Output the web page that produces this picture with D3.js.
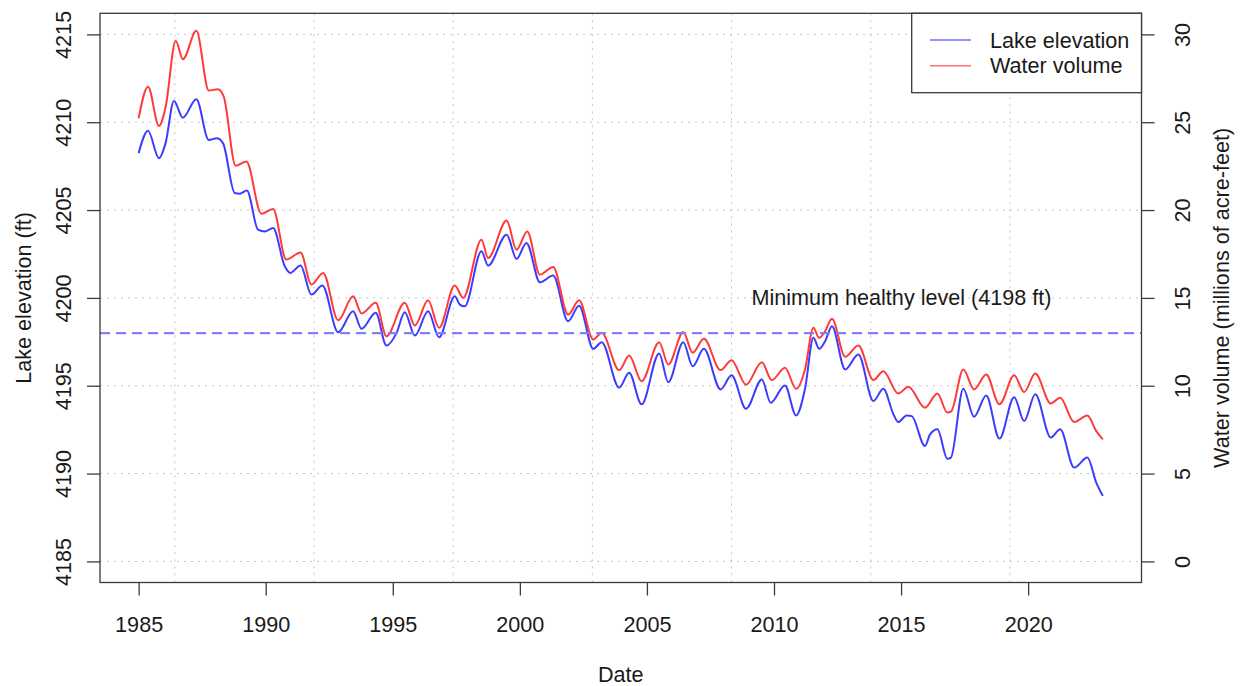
<!DOCTYPE html>
<html>
<head>
<meta charset="utf-8">
<script src="https://cdn.jsdelivr.net/npm/d3@7/dist/d3.min.js"></script>
<style>
  html, body { margin: 0; padding: 0; background: #ffffff; }
  svg { display: block; }
  text { font-family: "Liberation Sans", Arial, sans-serif; fill: #1a1a1a; }
</style>
</head>
<body>
<svg id="chart" width="1241" height="686"></svg>
<script>
// ---- Data ----
const elevDates = [1985.00,1985.37,1985.80,1986.06,1986.39,1986.74,1987.27,1987.76,1988.08,1988.32,
  1988.78,1988.98,1989.26,1989.70,1989.96,1990.29,1990.75,1990.97,1991.37,1991.80,
  1992.23,1992.85,1993.44,1993.77,1994.33,1994.75,1995.15,1995.47,1995.87,1996.39,
  1996.82,1997.44,1997.64,1997.83,1998.49,1998.75,1999.48,1999.87,2000.26,2000.79,
  2001.31,2001.90,2002.33,2002.89,2003.22,2003.91,2004.30,2004.79,2005.48,2005.84,
  2006.43,2006.80,2007.24,2007.90,2008.33,2008.90,2009.52,2009.87,2010.43,2010.87,
  2011.22,2011.55,2011.78,2012.01,2012.28,2012.80,2013.32,2013.91,2014.30,2014.70,
  2014.89,2015.22,2015.42,2015.94,2016.14,2016.43,2016.82,2016.96,2017.45,2017.87,
  2018.35,2018.87,2019.45,2019.84,2020.28,2020.89,2021.26,2021.81,2022.33,2022.68,2022.94];
const elevValues = [4208.24,4209.52,4207.95,4208.81,4211.21,4210.26,4211.31,4208.99,4209.09,4208.81,
  4205.97,4205.93,4206.11,4203.88,4203.78,4203.98,4201.80,4201.42,4201.85,4200.19,
  4200.70,4198.05,4199.24,4198.24,4199.15,4197.29,4198.01,4199.18,4197.86,4199.24,
  4197.76,4200.09,4199.62,4199.52,4202.65,4201.84,4203.60,4202.22,4203.13,4200.89,
  4201.27,4198.67,4199.56,4197.10,4197.48,4194.89,4195.74,4193.94,4196.84,4195.20,
  4197.48,4196.11,4197.10,4194.79,4195.59,4193.69,4195.36,4194.03,4195.02,4193.31,
  4194.83,4197.73,4197.10,4197.53,4198.39,4195.93,4196.78,4194.13,4194.83,4193.37,
  4192.93,4193.31,4193.27,4191.57,4192.23,4192.52,4190.85,4190.91,4194.83,4193.24,
  4194.45,4191.99,4194.35,4192.99,4194.51,4192.05,4192.52,4190.34,4190.91,4189.49,4188.73];

const volDates = [1985.00,1985.37,1985.80,1986.06,1986.46,1986.74,1987.27,1987.76,1988.12,1988.35,
  1988.82,1989.24,1989.83,1990.29,1990.81,1991.37,1991.80,1992.26,1992.85,1993.44,
  1993.77,1994.33,1994.75,1995.47,1995.87,1996.39,1996.82,1997.44,1997.77,1998.49,
  1998.75,1999.48,1999.87,2000.29,2000.79,2001.31,2001.90,2002.33,2002.89,2003.22,
  2003.91,2004.30,2004.79,2005.48,2005.84,2006.43,2006.80,2007.24,2007.90,2008.33,
  2008.90,2009.52,2009.91,2010.43,2010.87,2011.22,2011.55,2011.78,2012.01,2012.28,
  2012.80,2013.32,2013.91,2014.30,2014.89,2015.29,2015.94,2016.43,2016.82,2016.97,
  2017.45,2017.87,2018.35,2018.87,2019.45,2019.84,2020.28,2020.89,2021.26,2021.81,
  2022.33,2022.68,2022.94];
const volValues = [25.23,27.02,24.79,25.85,29.64,28.58,30.20,26.80,26.88,26.45,
  22.52,22.76,19.79,20.06,17.18,17.59,15.76,16.42,13.73,15.09,
  14.11,14.72,12.82,14.72,13.43,14.86,13.30,15.70,15.00,18.31,
  17.27,19.41,17.74,18.78,16.32,16.76,14.05,14.86,12.63,13.01,
  10.89,11.72,10.26,12.48,11.21,13.06,11.88,12.67,10.89,11.45,
  10.06,11.34,10.32,11.02,9.83,10.93,13.30,12.73,13.10,13.81,
  11.65,12.29,10.32,10.83,9.56,9.94,8.75,9.56,8.47,8.54,
  10.93,9.79,10.64,8.94,10.59,9.64,10.70,8.99,9.32,7.93,
  8.31,7.42,6.95];

const xTickYears = [1985,1990,1995,2000,2005,2010,2015,2020];
const elevTicks = [4185,4190,4195,4200,4205,4210,4215];
const volTicks = [0,5,10,15,20,25,30];
const gridDays = [6000,8000,10000,12000,14000,16000,18000]; // days since 1970-01-01
const minHealthy = 4198;
const annotationText = "Minimum healthy level (4198 ft)";
const legendLabels = ["Lake elevation", "Water volume"];

// ---- Layout ----
const W = 1241, H = 686;
const plot = { left: 100, right: 1141.5, top: 13.3, bottom: 582.5 };
const FS = 21.6;
const frameCol = "#3a3a3a";
const blue = "#3c3cff", red = "#ff3a3a";

const svg = d3.select("#chart");
svg.append("rect").attr("width", W).attr("height", H).attr("fill", "#fff");

const x = d3.scaleLinear().domain([1983.48, 2024.46]).range([plot.left, plot.right]);
const yE = d3.scaleLinear().domain([4185 - 1.2, 4215 + 1.2]).range([plot.bottom, plot.top]);
const yV = d3.scaleLinear().domain([0 - 1.2, 30 + 1.2]).range([plot.bottom, plot.top]);

// grid
const grid = svg.append("g").attr("stroke", "#c4c4c4").attr("stroke-width", 1)
  .attr("stroke-dasharray", "2,5").attr("fill", "none");
gridDays.forEach(d => {
  const gx = x(1970 + d / 365.25);
  grid.append("line").attr("x1", gx).attr("x2", gx).attr("y1", plot.top).attr("y2", plot.bottom);
});
elevTicks.forEach(v => {
  grid.append("line").attr("x1", plot.left).attr("x2", plot.right).attr("y1", yE(v)).attr("y2", yE(v));
});

// lines
const lineE = d3.line().x((d, i) => x(elevDates[i])).y(d => yE(d)).curve(d3.curveMonotoneX);
const lineV = d3.line().x((d, i) => x(volDates[i])).y(d => yV(d)).curve(d3.curveMonotoneX);
svg.append("path").datum(elevValues).attr("d", lineE).attr("fill", "none")
  .attr("stroke", blue).attr("stroke-width", 2).attr("stroke-linejoin", "round");
svg.append("path").datum(volValues).attr("d", lineV).attr("fill", "none")
  .attr("stroke", red).attr("stroke-width", 2).attr("stroke-linejoin", "round");

// min healthy dashed line
svg.append("line").attr("x1", plot.left).attr("x2", plot.right)
  .attr("y1", yE(minHealthy)).attr("y2", yE(minHealthy))
  .attr("stroke", "#7f7fff").attr("stroke-width", 2.2).attr("stroke-dasharray", "10,6");

svg.append("text").attr("x", 901.5).attr("y", 305).attr("text-anchor", "middle")
  .attr("font-size", FS).text(annotationText);

// axes
const bottomAxis = d3.axisBottom(x).tickValues(xTickYears).tickSize(13).tickPadding(0).tickFormat(d3.format("d"));
const gB = svg.append("g").attr("transform", `translate(0,${plot.bottom})`).call(bottomAxis);
gB.select(".domain").remove();
gB.selectAll(".tick line").attr("stroke", frameCol).attr("stroke-width", 1.3);
gB.selectAll(".tick text").attr("font-size", FS).attr("dy", null).attr("y", 49)
  .style("font-family", '"Liberation Sans", Arial, sans-serif').attr("fill", "#1a1a1a");

const leftAxis = d3.axisLeft(yE).tickValues(elevTicks).tickSize(13).tickFormat(d3.format("d"));
const gL = svg.append("g").attr("transform", `translate(${plot.left},0)`).call(leftAxis);
gL.select(".domain").remove();
gL.selectAll(".tick line").attr("stroke", frameCol).attr("stroke-width", 1.3);
gL.selectAll(".tick text").attr("font-size", FS).attr("x", null).attr("dy", null)
  .attr("text-anchor", "middle")
  .attr("transform", `translate(${70.5 - plot.left},0) rotate(-90)`)
  .style("font-family", '"Liberation Sans", Arial, sans-serif').attr("fill", "#1a1a1a");

const rightAxis = d3.axisRight(yV).tickValues(volTicks).tickSize(13).tickFormat(d3.format("d"));
const gR = svg.append("g").attr("transform", `translate(${plot.right},0)`).call(rightAxis);
gR.select(".domain").remove();
gR.selectAll(".tick line").attr("stroke", frameCol).attr("stroke-width", 1.3);
gR.selectAll(".tick text").attr("font-size", FS).attr("x", null).attr("dy", null)
  .attr("text-anchor", "middle")
  .attr("transform", `translate(${1189.5 - plot.right},0) rotate(-90)`)
  .style("font-family", '"Liberation Sans", Arial, sans-serif').attr("fill", "#1a1a1a");

// frame
svg.append("rect").attr("x", plot.left).attr("y", plot.top)
  .attr("width", plot.right - plot.left).attr("height", plot.bottom - plot.top)
  .attr("fill", "none").attr("stroke", frameCol).attr("stroke-width", 1.3);

// axis titles
const cy = (plot.top + plot.bottom) / 2;
svg.append("text").attr("x", (plot.left + plot.right) / 2).attr("y", 681.5)
  .attr("text-anchor", "middle").attr("font-size", FS).text("Date");
svg.append("text").attr("transform", `translate(30.5,${cy}) rotate(-90)`)
  .attr("text-anchor", "middle").attr("font-size", FS).text("Lake elevation (ft)");
svg.append("text").attr("transform", `translate(1229,${cy}) rotate(-90)`)
  .attr("text-anchor", "middle").attr("font-size", FS).text("Water volume (millions of acre-feet)");

// legend
const lg = svg.append("g");
lg.append("rect").attr("x", 911.7).attr("y", plot.top).attr("width", plot.right - 911.7).attr("height", 92.7 - plot.top)
  .attr("fill", "#fff").attr("stroke", frameCol).attr("stroke-width", 1.3);
const legCols = ["#7070ff", "#ff7070"];
const legY = [40, 65.7];
legendLabels.forEach((lab, i) => {
  lg.append("line").attr("x1", 930).attr("x2", 971).attr("y1", legY[i]).attr("y2", legY[i])
    .attr("stroke", legCols[i]).attr("stroke-width", 1.6);
  lg.append("text").attr("x", 990).attr("y", legY[i] + 7.7).attr("font-size", FS).text(lab);
});
</script>
</body>
</html>
